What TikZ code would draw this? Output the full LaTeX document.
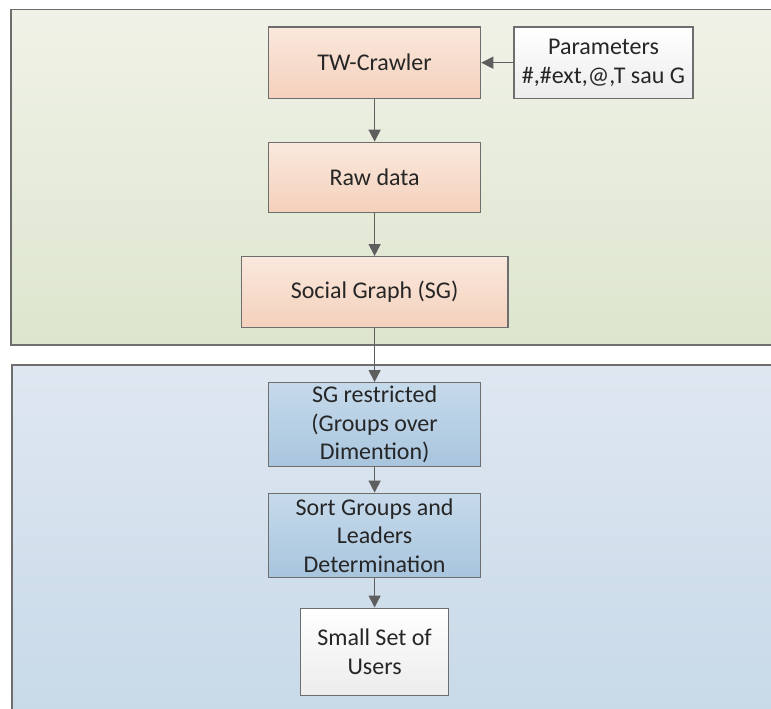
\documentclass[tikz,border=0pt]{standalone}
\usepackage{fontspec}
\setmainfont{Carlito}
\usetikzlibrary{arrows.meta}
\definecolor{bordc}{HTML}{6E6E6E}
\definecolor{arrc}{HTML}{5E5E5E}
\definecolor{txtc}{HTML}{262626}
\definecolor{gtop}{HTML}{F0F2E7}
\definecolor{gbot}{HTML}{DDE5CE}
\definecolor{btop}{HTML}{DFE7F1}
\definecolor{bbot}{HTML}{C7D9E8}
\definecolor{otop}{HTML}{FAE8DD}
\definecolor{obot}{HTML}{F4D1BC}
\definecolor{bltop}{HTML}{C6DAEB}
\definecolor{blbot}{HTML}{A8C5DE}
\definecolor{wbot}{HTML}{ECECEC}
\tikzset{
  box/.style={draw=bordc, line width=1.4pt, inner sep=0pt, align=center,
    font=\fontsize{24}{28.5}\selectfont, text=txtc},
  orangebox/.style={box, top color=otop, bottom color=obot},
  bluebox/.style={box, top color=bltop, bottom color=blbot},
  whitebox/.style={box, top color=white, bottom color=wbot},
  flow/.style={draw=arrc, line width=1.5pt, -{Triangle[width=12pt,length=12pt]}},
  panel/.style={draw=bordc, line width=1.4pt}
}
\begin{document}
\begin{tikzpicture}[x=1pt,y=-1pt]
\useasboundingbox (0,0) rectangle (771,709);
\begin{scope}
\clip (0,0) rectangle (771,709);
\shade[top color=gtop, bottom color=gbot] (11,9.5) rectangle (785,345);
\draw[panel] (11,9.5) rectangle (785,345);
\shade[top color=btop, bottom color=bbot] (12,365) rectangle (785,720);
\draw[panel] (12,365) rectangle (785,720);
\end{scope}

\node[orangebox, minimum width=212pt, minimum height=71pt] (crawler) at (374.6,62.7) {TW-Crawler};
\node[whitebox, minimum width=179pt, minimum height=71pt] (params) at (603.5,62.7) {Parameters\\\#,\#ext,@,T sau G};
\node[orangebox, minimum width=212pt, minimum height=70pt] (raw) at (374.6,177.3) {Raw data};
\node[orangebox, minimum width=266.5pt, minimum height=70.6pt] (sg) at (374.6,292) {Social Graph (SG)};
\node[bluebox, minimum width=212pt, minimum height=84pt] (sgr) at (374.6,424.7) {SG restricted\\(Groups over\\Dimention)};
\node[bluebox, minimum width=212pt, minimum height=84pt] (sort) at (374.6,535.3) {Sort Groups and\\Leaders\\Determination};
\node[whitebox, minimum width=148pt, minimum height=87pt] (small) at (374.6,651.7) {Small Set of\\Users};

\draw[flow] (params) -- (crawler);
\draw[flow] (crawler) -- (raw);
\draw[flow] (raw) -- (sg);
\draw[flow] (sg) -- (sgr);
\draw[flow] (sgr) -- (sort);
\draw[flow] (sort) -- (small);
\end{tikzpicture}
\end{document}
